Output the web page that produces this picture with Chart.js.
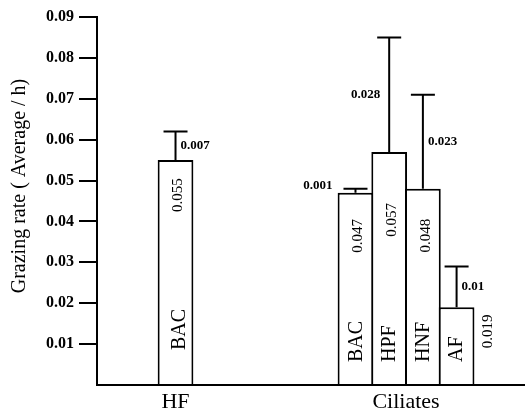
<!DOCTYPE html>
<html>
<head>
<meta charset="utf-8">
<script src="https://cdn.jsdelivr.net/npm/chart.js@4.4.1/dist/chart.umd.min.js"></script>
<style>
  html, body { margin: 0; padding: 0; background: #fff; }
  canvas { display: block; }
</style>
</head>
<body>
<canvas id="chart" width="525" height="416"></canvas>
<script>
// Grazing rates (mean and +error, per h)
const groups = ['HF', 'Ciliates'];
const prey = ['BAC', 'BAC', 'HPF', 'HNF', 'AF'];
const rates = [0.055, 0.047, 0.057, 0.048, 0.019];
const errors = [0.007, 0.001, 0.028, 0.023, 0.01];
const yTicks = [0, 0.01, 0.02, 0.03, 0.04, 0.05, 0.06, 0.07, 0.08, 0.09];
const yTickLabels = ['', '0.01', '0.02', '0.03', '0.04', '0.05', '0.06', '0.07', '0.08', '0.09'];
const yTitle = 'Grazing rate ( Average / h)';

// x position of each bar and of each group label, in bar widths
const barX = [2.33, 7.67, 8.67, 9.67, 10.67];
const groupX = [2.33, 9.17];

const ink = '#000';
const serif = "'Liberation Serif', 'DejaVu Serif', serif";

// hand placement of the annotations, as in the printed figure
const errPlace = ['right', 'barLeft', 'left', 'right', 'right'];
const valueDrop = [35, 43, 68, 47, 24];   // px below bar top to label centre
const valueDx = [3, 3, 3, 3, 31];
const nameLift = [35, 23, 23, 23, 23];    // px above baseline where name starts
const nameDx = [4, 1, 1, 1, 0];

const annotate = {
  id: 'annotate',
  afterDatasetsDraw(chart) {
    const { ctx, scales: { y }, chartArea } = chart;
    const bars = chart.getDatasetMeta(0).data;
    ctx.save();
    ctx.strokeStyle = ink;
    ctx.fillStyle = ink;
    ctx.lineWidth = 2;

    bars.forEach((bar, i) => {
      // error bar, upper half only
      const top = y.getPixelForValue(rates[i] + errors[i]);
      ctx.beginPath();
      ctx.moveTo(bar.x, bar.y);
      ctx.lineTo(bar.x, top);
      ctx.moveTo(bar.x - 12, top);
      ctx.lineTo(bar.x + 12, top);
      ctx.stroke();

      // error value
      ctx.font = 'bold 13px ' + serif;
      ctx.textBaseline = 'middle';
      const mid = (top + bar.y) / 2;
      if (errPlace[i] === 'right') {
        ctx.textAlign = 'left';
        ctx.fillText(String(errors[i]), bar.x + 5, mid);
      } else if (errPlace[i] === 'left') {
        ctx.textAlign = 'right';
        ctx.fillText(String(errors[i]), bar.x - 9, mid);
      } else {
        ctx.textAlign = 'right';
        ctx.fillText(String(errors[i]), bar.x - bar.width / 2 - 5, top - 3);
      }

      // mean value, rotated
      ctx.save();
      ctx.translate(bar.x + valueDx[i], bar.y + valueDrop[i]);
      ctx.rotate(-Math.PI / 2);
      ctx.font = '15px ' + serif;
      ctx.textAlign = 'center';
      ctx.fillText(rates[i].toFixed(3), 0, 0);
      ctx.restore();

      // prey name, rotated, from the bottom up
      ctx.save();
      ctx.translate(bar.x + nameDx[i], chartArea.bottom - nameLift[i]);
      ctx.rotate(-Math.PI / 2);
      ctx.font = '20px ' + serif;
      ctx.textAlign = 'left';
      ctx.fillText(prey[i], 0, 0);
      ctx.restore();
    });

    // y axis title
    ctx.save();
    ctx.translate(20, 186);
    ctx.rotate(-Math.PI / 2);
    ctx.font = '20px ' + serif;
    ctx.textAlign = 'center';
    ctx.textBaseline = 'middle';
    ctx.fillText(yTitle, 0, 0);
    ctx.restore();

    ctx.restore();
  }
};

new Chart(document.getElementById('chart'), {
  type: 'bar',
  data: {
    datasets: [{
      data: rates.map((v, i) => ({ x: barX[i], y: v })),
      backgroundColor: '#fff',
      borderColor: ink,
      borderWidth: 2,
      barPercentage: 1.06,
      categoryPercentage: 1
    }]
  },
  options: {
    responsive: false,
    animation: false,
    layout: { padding: { top: 17, right: 0, bottom: 0, left: 0 } },
    plugins: { legend: { display: false }, tooltip: { enabled: false } },
    scales: {
      x: {
        type: 'linear',
        min: 0,
        max: 12.7,
        offset: false,
        afterBuildTicks: s => { s.ticks = groupX.map(v => ({ value: v })); },
        afterFit: s => { s.height = 31; },
        ticks: {
          callback: (v, i) => groups[i],
          color: ink,
          font: { family: serif, size: 22 },
          padding: 4,
          maxRotation: 0,
          autoSkip: false
        },
        grid: { drawOnChartArea: false, drawTicks: false },
        border: { color: ink, width: 2 }
      },
      y: {
        min: 0,
        max: 0.09,
        afterBuildTicks: s => { s.ticks = yTicks.map(v => ({ value: v })); },
        afterFit: s => { s.width = 97; },
        ticks: {
          callback: (v, i) => yTickLabels[i],
          color: ink,
          font: { family: serif, size: 16, weight: 'bold' },
          padding: 5,
          autoSkip: false
        },
        grid: {
          drawOnChartArea: false,
          drawTicks: true,
          tickLength: 18,
          lineWidth: 2,
          color: c => (c.tick && c.tick.value === 0) ? 'rgba(0,0,0,0)' : ink
        },
        border: { color: ink, width: 2 }
      }
    }
  },
  plugins: [annotate]
});
</script>
</body>
</html>
